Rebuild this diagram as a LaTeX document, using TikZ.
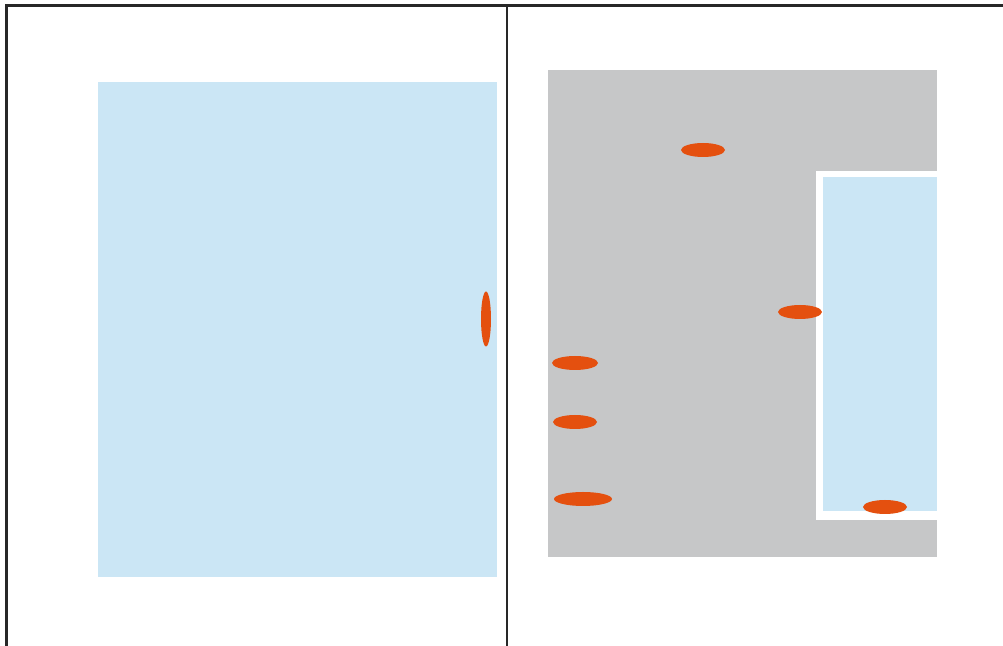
\documentclass[tikz,border=0pt]{standalone}
\usetikzlibrary{shapes.geometric}
\definecolor{paleblue}{RGB}{203,230,245}
\definecolor{panelgray}{RGB}{198,199,200}
\definecolor{dotorange}{RGB}{228,80,15}
\definecolor{frameline}{RGB}{40,40,40}
\tikzset{
  blob/.style={ellipse, fill=dotorange, draw=none, inner sep=0pt},
  hblob/.style={blob, minimum width=22pt, minimum height=7pt},
  frame/.style={draw=frameline, line width=1.1pt}
}
\begin{document}
\begin{tikzpicture}[x=0.5pt,y=-0.5pt]
\useasboundingbox (0,0) rectangle (1003,646);
\fill[white] (0,0) rectangle (1003,646);
% left panel
\fill[paleblue] (98,82) rectangle (497,577);
% right panel
\fill[panelgray] (548,70) rectangle (937,557);
\fill[white] (816,171) rectangle (937,520);
\fill[paleblue] (823,177) rectangle (937,511);
% frame lines
\draw[frame] (6.5,646) -- (6.5,5.5) -- (1003,5.5);
\draw[frame] (507,5.5) -- (507,646);
% orange marks
\node[blob, minimum width=5pt, minimum height=27.5pt] (v1) at (486,319) {};
\node[hblob] (m1) at (703,150) {};
\node[hblob] (m2) at (800,312) {};
\node[hblob, minimum width=23pt] (m3) at (575,363) {};
\node[hblob] (m4) at (575,422) {};
\node[hblob, minimum width=29pt] (m5) at (583,499) {};
\node[hblob] (m6) at (885,507) {};
\end{tikzpicture}
\end{document}
